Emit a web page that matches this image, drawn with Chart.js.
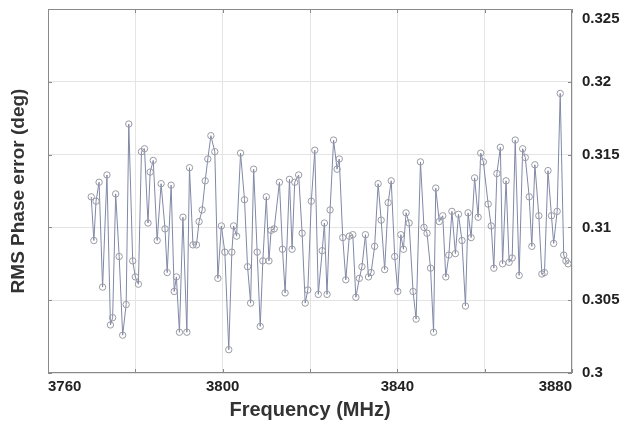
<!DOCTYPE html>
<html>
<head>
<meta charset="utf-8">
<script src="https://cdn.jsdelivr.net/npm/chart.js@4/dist/chart.umd.min.js"></script>
<style>
  html, body { margin: 0; padding: 0; background: #fff; }
  #wrap { width: 624px; height: 428px; }
</style>
</head>
<body>
<div id="wrap"><canvas id="phaseChart" width="624" height="428"></canvas></div>
<script>
// frequency of each measured point (MHz)
const freqMHz = [
  3769.9, 3770.5, 3771.0, 3771.7, 3772.5, 3773.5, 3774.3, 3774.8, 3775.5, 3776.3,
  3777.1, 3777.9, 3778.5, 3779.4, 3780.0, 3780.7, 3781.4, 3782.1, 3782.9, 3783.4,
  3784.1, 3785.0, 3785.9, 3786.8, 3787.3, 3788.2, 3788.9, 3789.4, 3790.1, 3790.9,
  3791.8, 3792.4, 3793.2, 3794.0, 3794.6, 3795.3, 3796.0, 3796.6, 3797.3, 3798.2,
  3798.9, 3799.7, 3800.5, 3801.4, 3802.1, 3802.5, 3803.2, 3804.1, 3805.0, 3805.7,
  3806.4, 3807.1, 3807.9, 3808.6, 3809.2, 3810.0, 3810.6, 3811.1, 3811.8, 3813.0,
  3813.7, 3814.3, 3815.3, 3815.9, 3816.5, 3817.4, 3818.2, 3818.9, 3819.5, 3820.3,
  3821.1, 3821.9, 3822.8, 3823.3, 3823.9, 3824.6, 3825.4, 3826.2, 3826.7, 3827.5,
  3828.2, 3829.0, 3829.8, 3830.5, 3831.3, 3831.9, 3832.7, 3833.4, 3834.0, 3834.8,
  3835.6, 3836.3, 3837.1, 3837.9, 3838.6, 3839.4, 3840.1, 3840.8, 3841.4, 3842.0,
  3842.7, 3843.6, 3844.3, 3845.3, 3846.1, 3846.8, 3847.6, 3848.3, 3848.8, 3849.6,
  3850.4, 3851.1, 3851.8, 3852.5, 3853.3, 3854.0, 3854.8, 3855.6, 3856.2, 3856.9,
  3857.7, 3858.5, 3859.1, 3859.7, 3860.8, 3861.5, 3862.1, 3862.8, 3863.6, 3864.1,
  3864.9, 3865.6, 3866.3, 3867.0, 3867.9, 3868.7, 3869.3, 3870.2, 3870.8, 3871.5,
  3872.4, 3873.1, 3873.7, 3874.5, 3875.3, 3875.8, 3876.6, 3877.3, 3878.1, 3878.6,
  3879.1
];

// RMS phase error at each frequency (deg)
const rmsPhaseErr = [
  0.3121, 0.3091, 0.3118, 0.3131, 0.3059, 0.3136, 0.3033, 0.3038, 0.3123, 0.3080,
  0.3026, 0.3047, 0.3171, 0.3077, 0.3066, 0.3061, 0.3152, 0.3154, 0.3103, 0.3138,
  0.3146, 0.3091, 0.3130, 0.3099, 0.3069, 0.3129, 0.3056, 0.3066, 0.3028, 0.3107,
  0.3028, 0.3141, 0.3088, 0.3088, 0.3104, 0.3112, 0.3132, 0.3147, 0.3163, 0.3152,
  0.3065, 0.3101, 0.3083, 0.3016, 0.3083, 0.3101, 0.3094, 0.3151, 0.3119, 0.3073,
  0.3048, 0.3140, 0.3083, 0.3032, 0.3077, 0.3121, 0.3077, 0.3098, 0.3099, 0.3131,
  0.3085, 0.3055, 0.3133, 0.3085, 0.3131, 0.3136, 0.3096, 0.3048, 0.3057, 0.3118,
  0.3153, 0.3054, 0.3084, 0.3103, 0.3054, 0.3112, 0.3160, 0.3140, 0.3147, 0.3093,
  0.3064, 0.3094, 0.3095, 0.3052, 0.3065, 0.3073, 0.3095, 0.3066, 0.3069, 0.3087,
  0.3130, 0.3105, 0.3071, 0.3117, 0.3132, 0.3080, 0.3056, 0.3095, 0.3085, 0.3110,
  0.3103, 0.3056, 0.3037, 0.3145, 0.3100, 0.3096, 0.3072, 0.3028, 0.3127, 0.3104,
  0.3108, 0.3066, 0.3081, 0.3111, 0.3082, 0.3109, 0.3091, 0.3046, 0.3110, 0.3093,
  0.3134, 0.3107, 0.3151, 0.3145, 0.3116, 0.3101, 0.3072, 0.3137, 0.3155, 0.3075,
  0.3132, 0.3076, 0.3079, 0.3160, 0.3067, 0.3154, 0.3148, 0.3121, 0.3087, 0.3143,
  0.3108, 0.3068, 0.3069, 0.3139, 0.3108, 0.3089, 0.3111, 0.3192, 0.3081, 0.3077,
  0.3075
];

// axis ranges and labelled ticks
const xRange = [3760, 3880];
const xLabelled = [3760, 3800, 3840, 3880];
const yRange = [0.3, 0.325];

const fontFamily = 'Liberation Sans, Arial, sans-serif';
const boxFont = { family: fontFamily, weight: 'bold' };
const fmtY = v => String(+v.toFixed(3));

// frame around the plot, small inward tick marks, and the top y label
// (sits a bit below its grid line in the original)
const frame = {
  id: 'frame',
  afterDraw(chart) {
    const { ctx, chartArea: a, scales } = chart;
    ctx.save();
    ctx.strokeStyle = '#8a8a8a';
    ctx.lineWidth = 1;
    ctx.strokeRect(a.left + 0.5, a.top + 0.5, a.right - a.left - 1, a.bottom - a.top - 1);
    ctx.beginPath();
    scales.x.ticks.forEach(t => {
      const px = Math.round(scales.x.getPixelForValue(t.value)) + 0.5;
      ctx.moveTo(px, a.top); ctx.lineTo(px, a.top + 4);
      ctx.moveTo(px, a.bottom); ctx.lineTo(px, a.bottom - 4);
    });
    scales.y.ticks.forEach(t => {
      const py = Math.round(scales.y.getPixelForValue(t.value)) + 0.5;
      ctx.moveTo(a.left, py); ctx.lineTo(a.left + 4, py);
      ctx.moveTo(a.right, py); ctx.lineTo(a.right - 4, py);
    });
    ctx.stroke();

    ctx.fillStyle = '#222';
    ctx.font = 'bold 15px ' + fontFamily;
    ctx.textAlign = 'left';
    ctx.textBaseline = 'middle';
    ctx.fillText(fmtY(yRange[1]), a.right + 10, a.top + 10);
    ctx.restore();
  }
};

const ctx = document.getElementById('phaseChart').getContext('2d');
new Chart(ctx, {
  type: 'line',
  data: {
    datasets: [{
      data: freqMHz.map((f, i) => ({ x: f, y: rmsPhaseErr[i] })),
      borderColor: '#8088a6',
      borderWidth: 1,
      pointRadius: 3.2,
      pointBorderColor: '#9a9aa4',
      pointBorderWidth: 1,
      pointBackgroundColor: 'rgba(255,255,255,0)',
      tension: 0
    }]
  },
  options: {
    responsive: false,
    animation: false,
    devicePixelRatio: 1,
    layout: { padding: 0 },
    plugins: { legend: { display: false }, tooltip: { enabled: false } },
    scales: {
      x: {
        type: 'linear',
        min: xRange[0],
        max: xRange[1],
        ticks: {
          stepSize: 20,
          padding: 5,
          align: 'inner',
          maxRotation: 0,
          color: '#222',
          font: { ...boxFont, size: 15 },
          callback: v => xLabelled.includes(v) ? String(v) : ''
        },
        grid: { color: '#e4e4e4', drawTicks: false },
        border: { display: false },
        title: {
          display: true,
          text: 'Frequency (MHz)',
          color: '#333',
          font: { ...boxFont, size: 20 },
          padding: { top: 0, bottom: 6 }
        },
        afterFit: s => { s.height = 55; }
      },
      y: {
        position: 'right',
        min: yRange[0],
        max: yRange[1],
        ticks: {
          stepSize: 0.005,
          padding: 10,
          color: '#222',
          font: { ...boxFont, size: 15 },
          callback: (v, i, all) => i === all.length - 1 ? '' : fmtY(v)
        },
        grid: { color: '#e4e4e4', drawTicks: false },
        border: { display: false },
        afterFit: s => { s.width = 52; s.paddingTop = 9; s.paddingBottom = 0; }
      },
      yTitle: {
        position: 'left',
        min: yRange[0],
        max: yRange[1],
        ticks: { display: false },
        grid: { display: false },
        border: { display: false },
        title: {
          display: true,
          text: 'RMS Phase error (deg)',
          color: '#333',
          font: { ...boxFont, size: 19 },
          padding: { top: 7, bottom: 0 }
        },
        afterFit: s => { s.width = 48; s.paddingTop = 0; s.paddingBottom = 0; }
      }
    }
  },
  plugins: [frame]
});
</script>
</body>
</html>
